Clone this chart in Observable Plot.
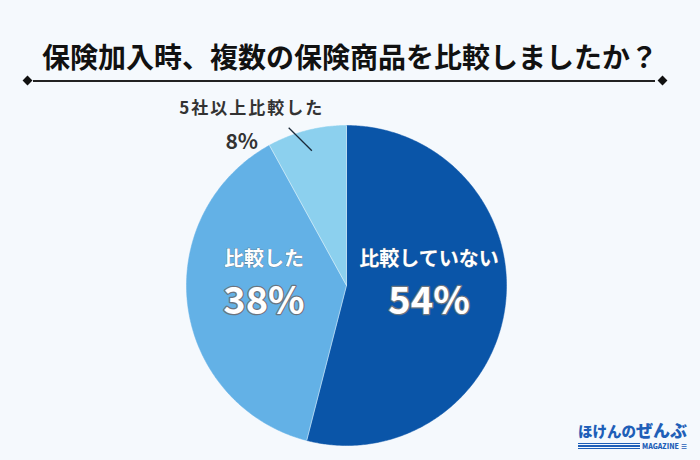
<!DOCTYPE html>
<html><head><meta charset="utf-8">
<script src="https://cdn.jsdelivr.net/npm/d3@7"></script>
<script src="https://cdn.jsdelivr.net/npm/@observablehq/plot@0.6"></script>
<style>
html,body{margin:0;padding:0;background:#f5f9fd;}
#wrap{position:relative;width:700px;height:460px;background:#f5f9fd;font-family:"Noto Sans CJK JP","Noto Sans",sans-serif;overflow:hidden;}
#title{position:absolute;left:0;top:36px;width:700px;text-align:center;font-size:28px;font-weight:700;color:#111;line-height:40px;}
#rule{position:absolute;left:33px;top:80px;width:622px;height:2px;background:#222;}
.dia{position:absolute;top:77px;width:7px;height:7px;background:#111;transform:rotate(45deg);}
#chart{position:absolute;left:0;top:95px;}
#logo{position:absolute;left:578px;top:420px;width:120px;white-space:nowrap;}
#logo .a{font-size:14.5px;font-weight:900;color:#1f5fb8;line-height:20px;height:20px;}
#logo .a span{font-size:17px;line-height:20px;}
#logo .b{font-size:7px;font-weight:900;color:#1f5fb8;line-height:8px;height:8px;display:flex;align-items:center;gap:2px;margin-top:2px;}
#logo .bars{width:62px;height:6px;background:repeating-linear-gradient(#1f5fb8 0 1.2px,transparent 1.2px 2.4px);}
</style></head>
<body><div id="wrap">
<div id="title">保険加入時、複数の保険商品を比較しましたか？</div>
<div class="dia" style="left:24px"></div>
<div id="rule"></div>
<div class="dia" style="left:659px"></div>
<div id="chart"></div>
<div id="logo"><div class="a">ほけんの<span>ぜんぶ</span></div><div class="b"><div class="bars"></div>MAGAZINE ≡</div></div>
</div>
<script>
const categories = ["比較していない", "比較した", "5社以上比較した"];
const values = [54, 38, 8];
const colors = ["#0a55a8", "#63b1e6", "#8cd0ee"];

const arcs = d3.pie().sort(null).value(d => d)(values);
// polar helper: angle measured clockwise from top
const pt = (a, r) => [r * Math.sin(a), r * Math.cos(a)];

const slicePts = [];
arcs.forEach((a, i) => {
  const n = Math.max(8, Math.ceil((a.endAngle - a.startAngle) / 0.01));
  slicePts.push({cat: categories[i], x: 0, y: 0});
  for (let k = 0; k <= n; k++) {
    const ang = a.startAngle + (a.endAngle - a.startAngle) * k / n;
    const [x, y] = pt(ang, 1);
    slicePts.push({cat: categories[i], x, y});
  }
  slicePts.push({cat: categories[i], x: 0, y: 0});
});
const borders = arcs.map(a => {
  const [x2, y2] = pt(a.startAngle, 1);
  return {x1: 0, y1: 0, x2, y2};
});

const inside = arcs.slice(0, 2).map((a, i) => {
  const m = (a.startAngle + a.endAngle) / 2;
  const [x, y] = pt(m, 0.52);
  return {x, y, cat: categories[i], pct: values[i] + "%"};
});
const small = arcs[2];
const mid = (small.startAngle + small.endAngle) / 2;
const [lx1, ly1] = pt(mid, 0.87);
const [lx2, ly2] = pt(mid - 0.1, 1.05);
const [cx, cy] = pt(mid - 0.24, 1.256);
const [px, py] = pt(mid - 0.38, 1.109);
const outCat = [{x: cx, y: cy, t: categories[2]}];
const outPct = [{x: px, y: py, t: values[2] + "%"}];

const plot = Plot.plot({
  width: 700, height: 365,
  marginLeft: 186, marginRight: 194, marginTop: 30, marginBottom: 15,
  x: {domain: [-1, 1], axis: null},
  y: {domain: [-1, 1], axis: null},
  color: {domain: categories, range: colors},
  style: {background: "transparent", fontFamily: "'Noto Sans CJK JP','Noto Sans',sans-serif", overflow: "visible"},
  marks: [
    Plot.line(slicePts, {x: "x", y: "y", z: "cat", fill: "cat", stroke: "cat", strokeWidth: 0.5, curve: "linear"}),
    Plot.link(borders, {x1: "x1", y1: "y1", x2: "x2", y2: "y2", stroke: "white", strokeWidth: 0.8, strokeOpacity: 0.6}),
    Plot.link([{x1: lx1, y1: ly1, x2: lx2, y2: ly2}], {x1: "x1", y1: "y1", x2: "x2", y2: "y2", stroke: "#1a2a3a", strokeWidth: 1.3}),
    Plot.text(inside, {x: "x", y: "y", text: "cat", dy: -36, fill: "white", fontSize: 20, fontWeight: 700, stroke: "#5a6d80", strokeWidth: 0.6}),
    Plot.text(inside, {x: "x", y: "y", text: "pct", dy: 6, fill: "white", fontSize: 38, fontWeight: 700, stroke: "#6b7580", strokeWidth: 2.5}),
    Plot.text(outCat, {x: "x", y: "y", text: "t", fill: "#333", fontSize: 17, fontWeight: 700, className: "outcat"}),
    Plot.text(outPct, {x: "x", y: "y", text: "t", fill: "#333", fontSize: 21, fontWeight: 700})
  ]
});
d3.select(plot).selectAll(".outcat text").style("letter-spacing", "2px");
document.getElementById("chart").appendChild(plot);
</script>
</body></html>
